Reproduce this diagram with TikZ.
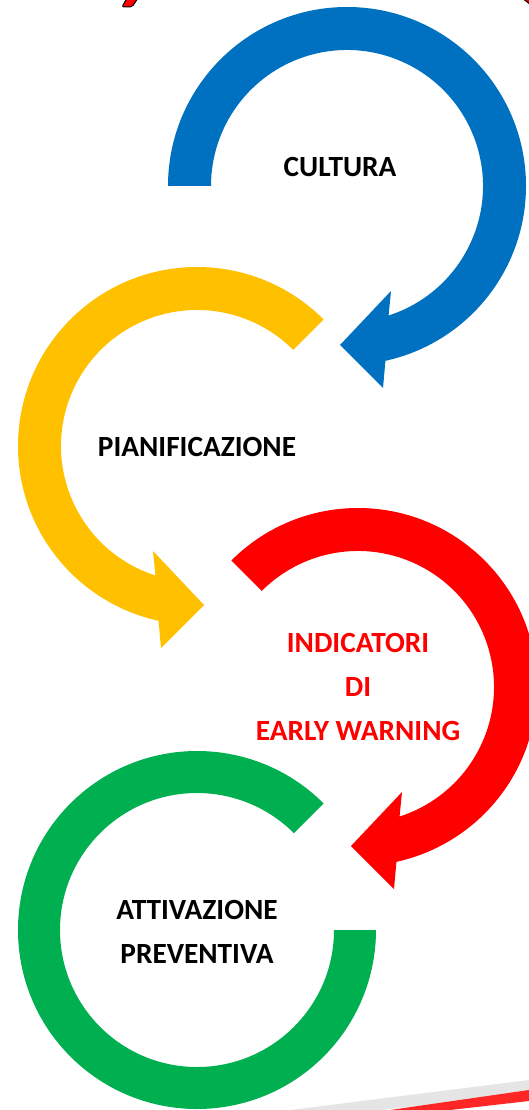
\documentclass[tikz,border=0pt]{standalone}
\usepackage{fontspec}
\setmainfont{Carlito}
\usepackage{tikz}
\usetikzlibrary{positioning}
\definecolor{cblue}{HTML}{0070C0}
\definecolor{cyellow}{HTML}{FFC000}
\definecolor{cred}{HTML}{FF0000}
\definecolor{cgreen}{HTML}{00B050}
\tikzset{steptext/.style={font=\bfseries\fontsize{29.3}{44}\selectfont, align=center, inner sep=0pt}}
% arc with arrow head, drawn round the origin of the scope
\newcommand{\swirl}[2]{%
  \fill[#1] (#2:179) arc[start angle=#2, end angle=437.6, radius=179]
    -- (36,202) -- (-7,159) -- (44,105) -- (432.2:136)
    arc[start angle=432.2, end angle=#2, radius=136] -- cycle;}

\begin{document}
\begin{tikzpicture}[x=1pt, y=-1pt]
  \useasboundingbox (0,0) rectangle (529,1110);
  \clip (0,0) rectangle (529,1110);
  % the four steps
  \swirl{cblue, shift={(347,186)}}{180}
  \swirl{cyellow, shift={(197,446)}, xscale=-1}{225}
  \swirl{cred, shift={(358,687)}}{225}
  \fill[cgreen, shift={(197,930)}] (-45:179) arc[start angle=-45, end angle=-360, radius=179]
    -- (-360:137) arc[start angle=-360, end angle=-45, radius=137] -- cycle;
  \node[steptext] (cultura) at (340,167) {CULTURA};
  \node[steptext] (pianif) at (197,447) {PIANIFICAZIONE};
  \node[steptext, text=cred] (indicatori) at (358,687) {INDICATORI\\DI\\EARLY WARNING};
  \node[steptext] (attivazione) at (197,932) {ATTIVAZIONE\\PREVENTIVA};
  % cut pieces at the edges
  \draw[fill=cred, line width=1pt, rounded corners=2pt] (122,7) -- (132,7) -- (138,-2) -- (127,-2) -- cycle;
  \draw[fill=cred, line width=1pt] (522,-2) -- (531,-2) -- (531,5) -- cycle;
  \fill[gray!20] (290,1110) -- (529,1080) -- (529,1094) -- (380,1110) -- cycle;
  \fill[cred!85] (390,1110) -- (529,1090) -- (529,1101) -- (450,1110) -- cycle;
\end{tikzpicture}
\end{document}
